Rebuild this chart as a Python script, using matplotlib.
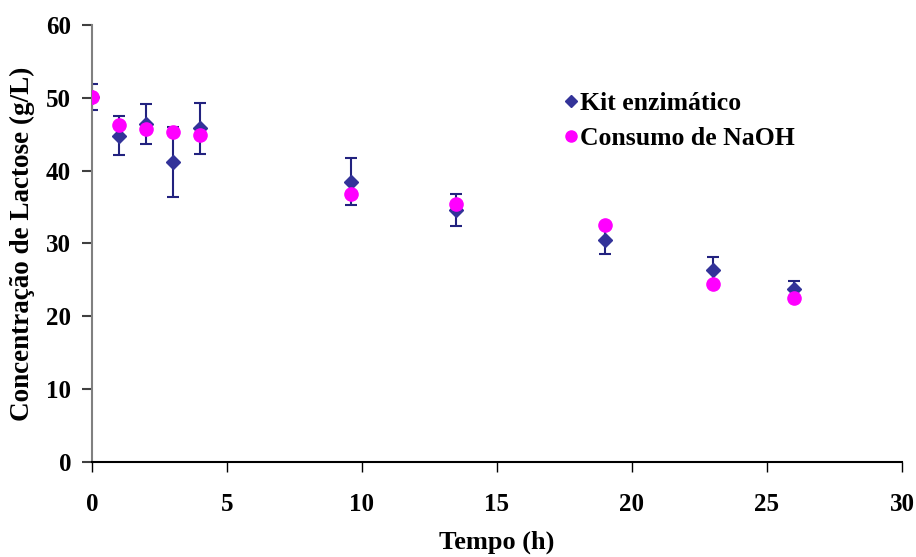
import matplotlib
matplotlib.use("Agg")
import matplotlib.pyplot as plt
from matplotlib.lines import Line2D

# tempo (h)
t_kit = [0, 1, 2, 3, 4, 9.6, 13.5, 19, 23, 26]
kit = [50.1, 44.8, 46.4, 41.2, 45.8, 38.5, 34.6, 30.5, 26.4, 23.7]
kit_err = [1.8, 2.7, 2.7, 4.8, 3.5, 3.2, 2.2, 2.0, 1.8, 1.2]

t_naoh = [0, 1, 2, 3, 4, 9.6, 13.5, 19, 23, 26]
naoh = [50.1, 46.3, 45.7, 45.3, 44.9, 36.8, 35.4, 32.6, 24.4, 22.5]

plt.rcParams['font.family'] = ['Liberation Serif', 'DejaVu Serif']
plt.rcParams['font.weight'] = 'bold'
plt.rcParams['font.size'] = 18

fig = plt.figure(figsize=(9.16, 5.57), dpi=100)
ax = fig.add_axes([0.1004, 0.1706, 0.8843, 0.7845])

ax.errorbar(t_kit, kit, yerr=kit_err, fmt='D', color='#333399', ms=7,
            ecolor='#22227f', elinewidth=1.5, capsize=4, capthick=1.5,
            zorder=2)
ax.plot(t_naoh, naoh, 'o', color='#ff00ff', ms=9.5, zorder=3)

ax.set_xlim(0, 30)
ax.set_ylim(0, 60)
ax.set_xticks(range(0, 31, 5))
ax.set_yticks(range(0, 61, 10))

ax.spines['top'].set_visible(False)
ax.spines['right'].set_visible(False)
ax.spines['left'].set_color('#808080')
ax.spines['left'].set_linewidth(1.5)
ax.spines['bottom'].set_color('black')
ax.spines['bottom'].set_linewidth(1.5)
ax.tick_params(axis='x', direction='out', length=7, width=1, pad=15)
ax.tick_params(axis='y', direction='out', length=7, width=1.5, color='#404040', pad=8)

ax.set_xlabel('Tempo (h)', fontweight='bold', fontsize=19, labelpad=11)
ax.set_ylabel('Concentração de Lactose (g/L)', fontweight='bold',
              fontsize=19.5, labelpad=8)

handles = [Line2D([], [], ls='none', marker='D', color='#333399', ms=6),
           Line2D([], [], ls='none', marker='o', color='#ff00ff', ms=8)]
ax.legend(handles, ['Kit enzimático', 'Consumo de NaOH'],
          loc='upper left', bbox_to_anchor=(0.566, 0.875), frameon=False,
          fontsize=18.5, handlelength=0.6, handletextpad=0.05,
          labelspacing=0.45, borderpad=0)

fig.savefig('out.png', dpi=100)
